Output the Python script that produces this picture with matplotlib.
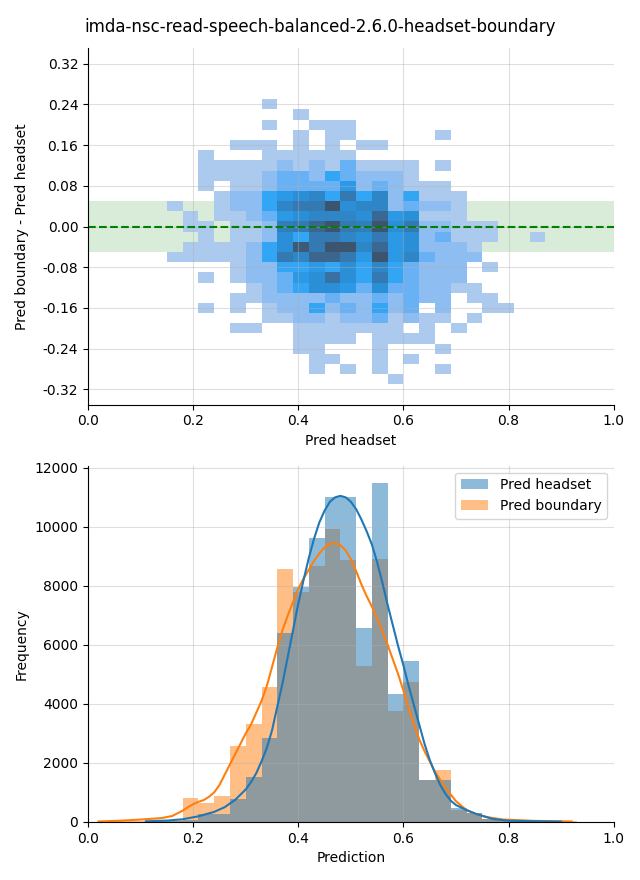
import numpy as np
import matplotlib
matplotlib.use("Agg")
import matplotlib.pyplot as plt
from matplotlib.colors import ListedColormap, to_rgb
from seaborn.external import husl

title = "imda-nsc-read-speech-balanced-2.6.0-headset-boundary"

# --- 2D histogram (Pred headset vs difference) ---
# x bins are 0.03 wide, first column starts at 0.15; y bins 0.02 tall centred on 0
diff_x_edges = np.round(np.arange(5, 30) * 0.03, 2)
diff_y_edges = np.round((np.arange(-15, 14) - 0.5) * 0.02, 3)

# estimated relative cell counts, rows from top (y=0.24) to bottom (y=-0.30), 0 = empty
cell_counts = [
    [0,0,0,0,0,0,1,0,0,0,0,0,0,0,0,0,0,0,0,0,0,0,0,0],
    [0,0,0,0,0,0,0,0,1,0,0,0,0,0,0,0,0,0,0,0,0,0,0,0],
    [0,0,0,0,0,0,1,0,0,1,1,1,0,0,0,0,0,0,0,0,0,0,0,0],
    [0,0,0,0,0,0,0,0,1,0,1,1,0,0,0,0,0,1,0,0,0,0,0,0],
    [0,0,0,0,1,1,1,0,1,0,1,0,1,1,0,0,0,0,0,0,0,0,0,0],
    [0,0,1,0,0,0,1,1,1,1,1,1,0,0,0,0,0,0,0,0,0,0,0,0],
    [0,0,1,1,1,1,1,12,1,12,1,23,1,1,1,1,0,1,0,0,0,0,0,0],
    [0,0,1,1,1,1,12,23,23,12,34,23,12,12,12,1,0,0,0,0,0,0,0,0],
    [0,0,1,0,1,1,12,23,23,23,23,43,12,23,12,1,1,1,0,0,0,0,0,0],
    [0,0,0,1,12,12,34,43,51,59,34,69,34,59,12,34,1,1,1,0,0,0,0,0],
    [1,0,0,1,12,12,34,59,69,69,100,51,59,59,12,23,12,12,1,0,0,0,0,0],
    [0,1,0,1,1,12,23,43,51,59,59,59,51,83,43,51,1,1,1,0,0,0,0,0],
    [0,1,1,0,1,1,12,65,69,85,100,69,65,100,51,69,12,12,1,1,1,0,0,0],
    [0,0,1,0,1,1,12,51,34,69,69,59,51,69,43,51,12,23,1,1,1,0,0,1],
    [0,1,1,1,1,12,34,51,95,69,100,100,59,83,43,51,12,12,12,1,0,0,0,0],
    [1,1,1,1,1,12,34,69,59,85,85,69,43,100,43,59,23,12,12,12,0,0,0,0],
    [0,0,0,0,1,12,12,34,34,43,34,51,34,59,34,23,12,12,12,0,1,0,0,0],
    [0,0,1,0,1,12,12,23,43,51,75,51,34,69,34,23,12,12,12,0,0,0,0,0],
    [0,0,0,0,0,1,12,23,34,51,51,43,23,51,23,23,12,12,1,1,0,0,0,0],
    [0,0,0,0,1,1,12,12,12,12,23,12,12,23,12,23,12,12,0,1,1,0,0,0],
    [0,0,1,0,1,0,1,12,12,34,12,23,12,34,12,23,0,12,0,0,1,1,0,0],
    [0,0,0,0,0,0,1,1,12,12,1,12,12,23,1,12,1,1,0,1,0,0,0,0],
    [0,0,0,0,1,1,0,0,1,1,1,1,1,1,1,0,1,0,1,0,0,0,0,0],
    [0,0,0,0,0,0,0,0,1,1,1,1,0,1,1,1,1,0,0,0,0,0,0,0],
    [0,0,0,0,0,0,0,0,1,1,0,0,0,1,0,0,0,1,0,0,0,0,0,0],
    [0,0,0,0,0,0,0,0,0,1,1,0,0,1,0,1,0,0,0,0,0,0,0,0],
    [0,0,0,0,0,0,0,0,0,1,0,1,0,1,0,0,0,1,0,0,0,0,0,0],
    [0,0,0,0,0,0,0,0,0,0,0,0,0,0,1,0,0,0,0,0,0,0,0,0],
]

# --- 1D histograms (bins of 0.03 from 0.00) ---
hist_edges = np.round(np.arange(0, 32) * 0.03, 2)
headset_counts = [0, 0, 0, 10, 30, 40, 60, 270, 270, 780, 1525, 2860, 6410, 7950,
                  9630, 11000, 11000, 6580, 11500, 4340, 5460, 1425, 1425, 470,
                  305, 90, 50, 40, 30, 20, 0]
boundary_counts = [10, 15, 20, 30, 40, 60, 810, 630, 880, 2575, 3320, 4580, 8560,
                   7780, 8680, 9940, 8865, 5290, 8900, 3745, 4730, 1425, 1760, 410,
                   300, 90, 60, 40, 30, 25, 20]

# KDE curves (scaled to counts)
kde_x_headset = [0.11, 0.15, 0.18, 0.21, 0.24, 0.26, 0.28, 0.30, 0.31, 0.32, 0.33,
                 0.34, 0.35, 0.36, 0.37, 0.38, 0.39, 0.40, 0.41, 0.42, 0.43, 0.44,
                 0.45, 0.46, 0.47, 0.48, 0.49, 0.50, 0.51, 0.52, 0.53, 0.54, 0.55,
                 0.56, 0.57, 0.58, 0.59, 0.60, 0.61, 0.62, 0.63, 0.64, 0.65, 0.66,
                 0.67, 0.68, 0.69, 0.70, 0.72, 0.74, 0.77, 0.80, 0.85, 0.90]
kde_y_headset = [20, 45, 90, 190, 340, 500, 750, 1100, 1350, 1650, 2050,
                 2500, 3100, 3900, 4700, 5600, 6500, 7400, 8200, 8950, 9600, 10150,
                 10550, 10850, 11000, 11050, 11000, 10850, 10600, 10250, 9850, 9400, 8800,
                 8100, 7350, 6650, 5950, 5300, 4600, 3950, 3300, 2650, 2100, 1650,
                 1250, 950, 720, 570, 400, 260, 100, 40, 25, 10]
kde_x_boundary = [0.02, 0.06, 0.10, 0.14, 0.16, 0.18, 0.19, 0.20, 0.21, 0.22, 0.23,
                  0.24, 0.25, 0.26, 0.27, 0.28, 0.29, 0.30, 0.31, 0.32, 0.33, 0.34,
                  0.35, 0.36, 0.37, 0.38, 0.39, 0.40, 0.41, 0.42, 0.43, 0.44, 0.45,
                  0.46, 0.47, 0.48, 0.49, 0.50, 0.51, 0.52, 0.53, 0.54, 0.55, 0.56,
                  0.57, 0.58, 0.59, 0.60, 0.61, 0.62, 0.63, 0.64, 0.65, 0.66, 0.68,
                  0.70, 0.72, 0.74, 0.76, 0.79, 0.85, 0.92]
kde_y_boundary = [15, 40, 80, 130, 200, 380, 500, 600, 680, 740, 850,
                  1000, 1250, 1600, 1950, 2300, 2650, 3000, 3300, 3700, 4100, 4600,
                  5250, 5900, 6500, 7000, 7450, 7900, 8250, 8550, 8850, 9100, 9300,
                  9420, 9450, 9380, 9200, 8900, 8500, 8050, 7650, 7300, 6900, 6450,
                  6000, 5500, 5000, 4450, 3850, 3300, 2800, 2400, 2050, 1700, 1150,
                  700, 400, 250, 160, 80, 35, 15]


def seed_cmap(color):
    # same sequential ramp seaborn builds for bivariate histograms
    r, g, b = to_rgb(color)
    h, s, _ = husl.rgb_to_husl(r, g, b)
    xx = np.linspace(-1, 1, int(1.15 * 256))[:256]
    ramp = np.zeros((256, 3))
    ramp[:, 0] = h
    ramp[:, 1] = s * np.cos(xx)
    ramp[:, 2] = np.linspace(35, 80, 256)
    colors = np.clip([husl.husl_to_rgb(*hsl) for hsl in ramp], 0, 1)
    return ListedColormap(colors[::-1])


fig, (ax1, ax2) = plt.subplots(2, 1, figsize=(6.4, 8.8), dpi=100)
fig.subplots_adjust(left=0.1375, right=0.959, top=0.945, bottom=0.066, hspace=0.171)
fig.suptitle(title, fontsize=12)

# top: 2D histogram
counts = np.ma.masked_equal(np.array(cell_counts)[::-1], 0)
ax1.axhspan(-0.05, 0.05, color="green", alpha=0.15, lw=0, zorder=0.5)
ax1.pcolormesh(diff_x_edges, diff_y_edges, counts, cmap=seed_cmap("C0"))
ax1.axhline(0, color="green", linestyle="--", lw=1.5)
ax1.set_xlim(0, 1)
ax1.set_ylim(-0.35, 0.35)
ax1.set_yticks(np.arange(-0.32, 0.33, 0.08))
ax1.yaxis.set_major_formatter(plt.FormatStrFormatter("%.2f"))
ax1.set_xlabel("Pred headset")
ax1.set_ylabel("Pred boundary - Pred headset")
ax1.grid(True, alpha=0.4)

# bottom: overlaid histograms with kde
centers = (hist_edges[:-1] + hist_edges[1:]) / 2
ax2.hist(centers, bins=hist_edges, weights=boundary_counts, color="C1", alpha=0.5)
ax2.hist(centers, bins=hist_edges, weights=headset_counts, color="C0", alpha=0.5)
ax2.plot(kde_x_boundary, kde_y_boundary, color="C1", lw=1.5)
ax2.plot(kde_x_headset, kde_y_headset, color="C0", lw=1.5)
ax2.set_xlim(0, 1)
ax2.set_xlabel("Prediction")
ax2.set_ylabel("Frequency")
ax2.grid(True, alpha=0.4)
handles = [plt.Rectangle((0, 0), 1, 1, facecolor="C0", alpha=0.5, lw=0),
           plt.Rectangle((0, 0), 1, 1, facecolor="C1", alpha=0.5, lw=0)]
ax2.legend(handles, ["Pred headset", "Pred boundary"], loc="upper right")

for ax in (ax1, ax2):
    ax.spines["top"].set_visible(False)
    ax.spines["right"].set_visible(False)

fig.align_ylabels([ax1, ax2])
fig.savefig("out.png")
